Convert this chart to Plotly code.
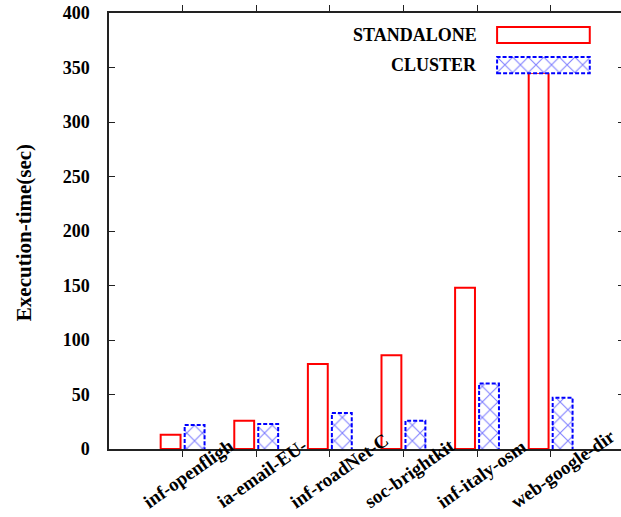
import plotly.graph_objects as go

categories = ["inf-openflights", "ia-email-EU-all", "inf-roadNet-CA",
              "soc-brightkite", "inf-italy-osm", "web-google-dir"]
# visible (clipped) part of each rotated label as it appears in the chart
visible_labels = ["inf-openfligh", "ia-email-EU-", "inf-roadNet-C",
                  "soc-brightkit", "inf-italy-osm", "web-google-dir"]
standalone = [13, 26, 78, 86, 148, 345]
cluster = [22, 23, 33, 26, 60, 47]
y_ticks = [0, 50, 100, 150, 200, 250, 300, 350, 400]

FONT = "Liberation Serif"
RED = "#ff0000"
BLUE = "#0000ff"
OFF = 0.163
BW = 0.27
PATTERN = dict(shape="x", fgcolor=BLUE, bgcolor="white", size=11, solidity=0.18)

pos = list(range(1, len(categories) + 1))
xs_a = [p - OFF for p in pos]
xs_b = [p + OFF for p in pos]

fig = go.Figure()
fig.add_trace(go.Bar(x=xs_a, y=standalone, width=BW, name="STANDALONE",
                     marker=dict(color="white", line=dict(color=RED, width=2)),
                     showlegend=False))
fig.add_trace(go.Bar(x=xs_b, y=cluster, width=BW + 0.02, name="CLUSTER",
                     marker=dict(color="white", line=dict(width=0), pattern=PATTERN),
                     showlegend=False))
# dashed outlines of cluster bars
ox, oy = [], []
for xc, v in zip(xs_b, cluster):
    x0, x1 = xc - BW / 2, xc + BW / 2
    ox += [x0, x0, x1, x1, None]
    oy += [0, v, v, 0, None]
fig.add_trace(go.Scatter(x=ox, y=oy, mode="lines", showlegend=False,
                         line=dict(color=BLUE, width=2, dash="4px,2px")))

# legend key for CLUSTER (pattern) on a small helper axis
fig.add_trace(go.Bar(x=[0.5], y=[1], width=1, xaxis="x3", yaxis="y3", showlegend=False,
                     marker=dict(color="white", line=dict(width=0), pattern=PATTERN)))

axis_line = dict(showline=True, linecolor="#222", linewidth=1.5, zeroline=False,
                 showgrid=False)
fig.update_layout(
    width=621, height=517,
    margin=dict(l=109, r=0, t=13, b=68),
    plot_bgcolor="white", paper_bgcolor="white",
    barmode="overlay",
    font=dict(family=FONT, size=18, color="black", weight="bold"),
    xaxis=dict(range=[0, 6.956], tickvals=pos, ticktext=[""] * len(pos),
               ticks="outside", ticklen=6, tickcolor="#222", mirror="allticks",
               **axis_line),
    yaxis=dict(range=[0, 400], tickvals=y_ticks, ticks="inside", ticklen=6,
               tickcolor="#222", ticklabelstandoff=14,
               tickfont=dict(family=FONT, size=18, weight="bold"), **axis_line),
    yaxis2=dict(range=[0, 400], overlaying="y", side="right", tickvals=y_ticks,
                ticks="inside", ticklen=3, tickcolor="#222", showticklabels=False,
                showline=False, showgrid=False, zeroline=False),
    xaxis3=dict(domain=[0.758, 0.939], anchor="y3", range=[0, 1], visible=False),
    yaxis3=dict(domain=[0.862, 0.899], anchor="x3", range=[0, 1], visible=False),
)
# dummy trace to activate yaxis2
fig.add_trace(go.Scatter(x=[None], y=[None], yaxis="y2", showlegend=False))

# legend keys outlines
fig.add_shape(type="rect", xref="paper", yref="paper", x0=0.758, x1=0.939,
              y0=0.931, y1=0.968, line=dict(color=RED, width=2), fillcolor="white")
fig.add_shape(type="rect", xref="paper", yref="paper", x0=0.758, x1=0.939,
              y0=0.862, y1=0.899, line=dict(color=BLUE, width=2, dash="4px,2px"))
fig.add_annotation(text="STANDALONE", xref="paper", yref="paper", x=0.722, y=0.9495,
                   xanchor="right", yanchor="middle", showarrow=False,
                   font=dict(family=FONT, size=18, weight="bold"))
fig.add_annotation(text="CLUSTER", xref="paper", yref="paper", x=0.722, y=0.8805,
                   xanchor="right", yanchor="middle", showarrow=False,
                   font=dict(family=FONT, size=18, weight="bold"))

# rotated category labels
for p, lab in zip(pos, visible_labels):
    fig.add_annotation(text=lab, x=p, y=0, xref="x", yref="y", textangle=-35,
                       xanchor="left", yanchor="bottom", xshift=-46, yshift=-66,
                       showarrow=False, font=dict(family=FONT, size=19, weight="bold"))

fig.add_annotation(text="Execution-time(sec)", xref="paper", yref="paper", x=0, y=0.495,
                   xanchor="center", yanchor="middle", xshift=-85, textangle=-90,
                   showarrow=False, font=dict(family=FONT, size=21, weight="bold"))

fig.write_html("out.html", config={"displayModeBar": False},
               post_script="document.body.style.margin='0';document.body.style.overflow='hidden';")
